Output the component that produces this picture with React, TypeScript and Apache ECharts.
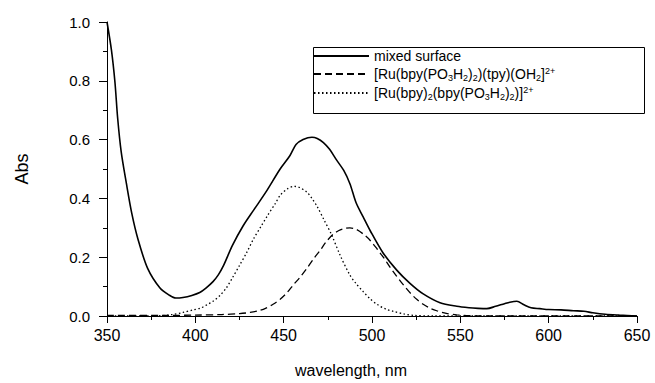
import React, { useEffect, useRef } from "react";
import * as echarts from "echarts";

// ---- data ----
const wlMixed = [350, 352.5, 354.5, 356, 358, 361, 364, 367.5, 373, 380, 385, 389, 393, 398, 402.5, 406, 410, 413, 416, 421, 427, 433, 440, 448, 453.5, 457, 461, 466, 469, 472.5, 476, 480, 484, 487.5, 491, 495, 499, 506, 514, 521.5, 529, 538.5, 548, 555, 560, 565, 570, 575, 578, 582, 586, 590, 595, 600, 607, 614, 620, 625, 632, 640, 650];
const absMixed = [1.0, 0.905, 0.795, 0.675, 0.56, 0.45, 0.35, 0.262, 0.162, 0.095, 0.072, 0.061, 0.063, 0.07, 0.08, 0.095, 0.117, 0.14, 0.172, 0.24, 0.306, 0.36, 0.422, 0.5, 0.545, 0.583, 0.6, 0.608, 0.604, 0.59, 0.567, 0.53, 0.495, 0.45, 0.385, 0.337, 0.29, 0.217, 0.156, 0.111, 0.075, 0.045, 0.033, 0.028, 0.026, 0.025, 0.033, 0.042, 0.047, 0.05, 0.038, 0.028, 0.025, 0.022, 0.021, 0.018, 0.016, 0.011, 0.006, 0.003, 0.0];

const wlTpy = [350, 380, 400, 415, 425, 431, 436, 440, 444, 448, 452, 455.5, 459, 463, 467, 470.5, 474, 478, 481, 484, 487.5, 491, 495, 499, 503, 507, 510, 514, 518, 522, 525.5, 529, 533, 537, 542, 548, 555, 570, 600, 650];
const absTpy = [0.002, 0.002, 0.003, 0.005, 0.008, 0.012, 0.018, 0.027, 0.04, 0.057, 0.08, 0.106, 0.13, 0.161, 0.195, 0.222, 0.252, 0.278, 0.29, 0.297, 0.3, 0.295, 0.279, 0.257, 0.227, 0.195, 0.168, 0.135, 0.104, 0.076, 0.056, 0.04, 0.026, 0.017, 0.009, 0.004, 0.001, 0, 0, 0];

const wlBpy = [350, 380, 387, 393, 399, 403, 406.5, 410, 414, 417.5, 421, 425, 429, 433, 437, 441, 445, 448, 452, 456, 459, 463, 466, 469, 473, 477, 482, 487.5, 491, 495, 499, 503, 508, 512, 518, 524, 535, 560, 650];
const absBpy = [0, 0.001, 0.005, 0.012, 0.021, 0.027, 0.038, 0.05, 0.07, 0.095, 0.13, 0.172, 0.215, 0.263, 0.303, 0.343, 0.38, 0.41, 0.432, 0.441, 0.437, 0.422, 0.4, 0.372, 0.325, 0.278, 0.206, 0.139, 0.11, 0.083, 0.058, 0.039, 0.023, 0.016, 0.007, 0.002, 0, 0, 0];

const seriesNames = [
  "mixed surface",
  "[Ru(bpy(PO3H2)2)(tpy)(OH2]2+",
  "[Ru(bpy)2(bpy(PO3H2)2)]2+",
];
const legendRich = [
  "mixed surface",
  "[Ru(bpy(PO{sub|3}H{sub|2}){sub|2})(tpy)(OH{sub|2}]{sup|2+}",
  "[Ru(bpy){sub|2}(bpy(PO{sub|3}H{sub|2}){sub|2})]{sup|2+}",
];

const xName = "wavelength, nm";
const yName = "Abs";

const FONT = "'Liberation Sans', Arial, Helvetica, sans-serif";

export default function App() {
  const ref = useRef<HTMLDivElement>(null);
  useEffect(() => {
    document.body.style.margin = "0";
    const chart = echarts.init(ref.current as HTMLDivElement, null, { renderer: "svg" });
    const rowTops = [48, 66, 85];
    chart.setOption({
      animation: false,
      backgroundColor: "#fff",
      grid: { left: 107, right: 18, top: 22, bottom: 60 },
      graphic: [
        {
          type: "rect",
          z: 0,
          shape: { x: 313.5, y: 47.5, width: 331, height: 66 },
          style: { fill: "#fff", stroke: "#000", lineWidth: 1 },
        },
      ],
      xAxis: {
        type: "value",
        min: 350,
        max: 650,
        interval: 50,
        axisLine: { show: true, lineStyle: { color: "#000" } },
        axisTick: { show: true, length: 7, lineStyle: { color: "#000", width: 1 } },
        minorTick: { show: true, splitNumber: 2, length: 4, lineStyle: { color: "#000", width: 1 } },
        splitLine: { show: false },
        axisLabel: { color: "#000", fontSize: 16, fontFamily: FONT, margin: 11 },
        name: xName,
        nameLocation: "middle",
        nameGap: 46,
        nameTextStyle: { color: "#000", fontSize: 16, fontFamily: FONT, padding: [0, 42, 0, 0] },
      },
      yAxis: {
        type: "value",
        min: 0,
        max: 1,
        interval: 0.2,
        axisLine: { show: true, lineStyle: { color: "#000" } },
        axisTick: { show: true, length: 8, lineStyle: { color: "#000", width: 1 } },
        minorTick: { show: true, splitNumber: 2, length: 4, lineStyle: { color: "#000", width: 1 } },
        splitLine: { show: false },
        axisLabel: {
          color: "#000",
          fontSize: 15,
          fontFamily: FONT,
          margin: 17,
          formatter: (v: number) => v.toFixed(1),
        },
        name: yName,
        nameLocation: "middle",
        nameGap: 76,
        nameTextStyle: { color: "#000", fontSize: 18, fontFamily: FONT },
      },
      legend: [0, 1, 2].map((i) => ({
        data: [seriesNames[i]],
        left: 313,
        top: rowTops[i],
        padding: 0,
        itemGap: 0,
        itemWidth: 55,
        itemHeight: 14,
        selectedMode: false,
        itemStyle: { opacity: 0 },
        formatter: () => legendRich[i],
        textStyle: {
          color: "#000",
          fontSize: 14,
          fontFamily: FONT,
          lineHeight: 16,
          rich: {
            sub: { fontSize: 9, fontFamily: FONT, color: "#000", verticalAlign: "bottom", lineHeight: 9 },
            sup: { fontSize: 9, fontFamily: FONT, color: "#000", verticalAlign: "top", lineHeight: 9 },
          },
        },
      })),
      series: [
        {
          type: "line",
          name: seriesNames[0],
          data: wlMixed.map((w, i) => [w, absMixed[i]]),
          symbol: "none",
          showSymbol: false,
          smooth: 0.3,
          color: "#000",
          lineStyle: { color: "#000", width: 1.6, type: "solid" },
        },
        {
          type: "line",
          name: seriesNames[1],
          data: wlTpy.map((w, i) => [w, absTpy[i]]),
          symbol: "none",
          showSymbol: false,
          smooth: 0.3,
          color: "#000",
          lineStyle: { color: "#000", width: 1.3, type: [7, 4] },
        },
        {
          type: "line",
          name: seriesNames[2],
          data: wlBpy.map((w, i) => [w, absBpy[i]]),
          symbol: "none",
          showSymbol: false,
          smooth: 0.3,
          color: "#000",
          lineStyle: { color: "#000", width: 1.3, type: [1.5, 2.5] },
        },
      ],
    });
    return () => chart.dispose();
  }, []);
  return <div ref={ref} style={{ width: 655, height: 383 }} />;
}
